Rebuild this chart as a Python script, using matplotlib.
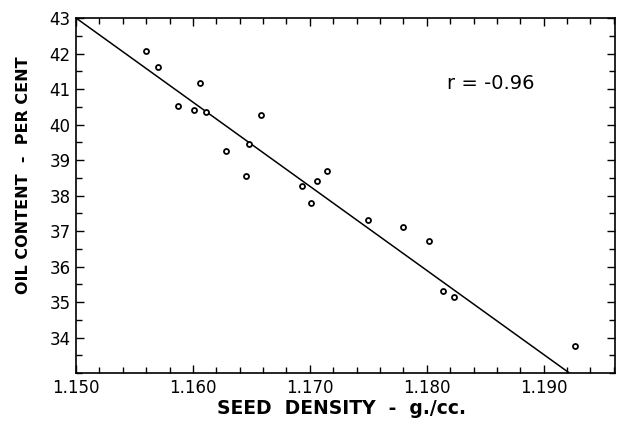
import matplotlib
matplotlib.use("Agg")
import matplotlib.pyplot as plt
from matplotlib.ticker import MultipleLocator, FixedLocator

density = [1.1560, 1.1570, 1.1606, 1.1587, 1.1601, 1.1611, 1.1658, 1.1628,
           1.1648, 1.1645, 1.1693, 1.1706, 1.1701, 1.1715, 1.1750, 1.1780,
           1.1802, 1.1814, 1.1823, 1.1927]
oil = [42.08, 41.63, 41.17, 40.51, 40.42, 40.34, 40.26, 39.25,
       39.46, 38.56, 38.28, 38.41, 37.79, 38.70, 37.30, 37.12,
       36.72, 35.32, 35.14, 33.77]
line_x = [1.150, 1.1922]
line_y = [43.0, 33.0]
xticks = [1.150, 1.160, 1.170, 1.180, 1.190]
xtick_labels = ["1.150", "1.160", "1.170", "1.180", "1.190"]
yticks = [34, 35, 36, 37, 38, 39, 40, 41, 42, 43]
annotation = "r = -0.96"

fig = plt.figure(figsize=(6.22, 4.26), dpi=100)
ax = fig.add_axes([0.1222, 0.1244, 0.8665, 0.8333])

ax.plot(line_x, line_y, color="black", lw=1.1, solid_capstyle="butt")
ax.plot(density, oil, linestyle="none", marker="o", markersize=3.6,
        markerfacecolor="white", markeredgecolor="black", markeredgewidth=1.3)

ax.set_xlim(1.150, 1.1961)
ax.set_ylim(33, 43)
ax.xaxis.set_major_locator(FixedLocator(xticks))
ax.set_xticklabels(xtick_labels)
ax.xaxis.set_minor_locator(MultipleLocator(0.002))
ax.yaxis.set_major_locator(FixedLocator(yticks))
ax.yaxis.set_minor_locator(MultipleLocator(0.5))
ax.tick_params(which="both", direction="in", top=True, right=True,
               labelsize=12, width=1.0, pad=4)
ax.tick_params(which="major", length=6)
ax.tick_params(which="minor", length=4)
for s in ax.spines.values():
    s.set_linewidth(1.2)

fig.text(342 / 622, 1 - 408 / 426, "SEED  DENSITY  -  g./cc.", fontsize=13.5,
         fontweight="bold", ha="center", va="center")
fig.text(24 / 622, 1 - 175 / 426, "OIL CONTENT  -  PER CENT", fontsize=11.5,
         fontweight="bold", ha="center", va="center", rotation=90)
ax.text(1.1855, 41.15, annotation, fontsize=14, ha="center", va="center")

fig.savefig("out.png", dpi=100)
